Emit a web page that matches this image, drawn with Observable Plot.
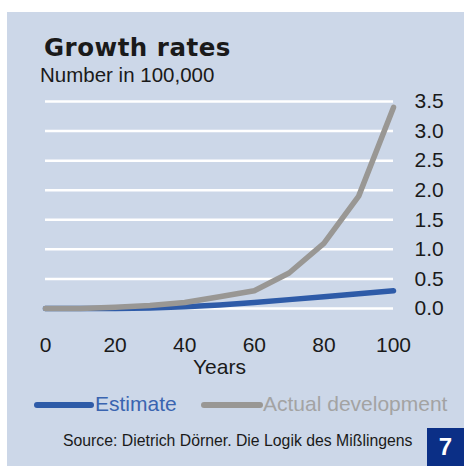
<!DOCTYPE html>
<html><head><meta charset="utf-8">
<script src="https://cdn.jsdelivr.net/npm/d3@7"></script>
<script src="https://cdn.jsdelivr.net/npm/@observablehq/plot@0.6"></script>
<style>
body{margin:0;background:#fff;font-family:"Liberation Sans",Arial,sans-serif;}
#wrap{position:relative;width:464px;height:466px;overflow:hidden;}
#panel{position:absolute;left:7px;top:12px;width:457px;height:454px;background:#ccd7e8;}
#title{position:absolute;left:44px;top:33px;font-family:"DejaVu Sans",sans-serif;font-size:24.5px;font-weight:bold;color:#1a1a1a;letter-spacing:0.5px;}
#sub{position:absolute;left:40px;top:63px;font-size:20.5px;color:#1a1a1a;}
#chart{position:absolute;left:0;top:80px;}
.leg{position:absolute;top:392px;font-size:21px;white-space:nowrap;}
#src{position:absolute;left:63px;top:432px;font-size:15.8px;color:#1a1a1a;white-space:nowrap;}
#num{position:absolute;left:427px;top:428px;width:37px;height:38px;background:#0b2f86;color:#fff;font-weight:bold;font-size:24px;text-align:center;line-height:38px;}
</style></head>
<body><div id="wrap">
<div id="panel"></div>
<div id="title">Growth rates</div>
<div id="sub">Number in 100,000</div>
<div id="chart"></div>
<div class="leg" style="left:33px;color:#3a64b0"><svg width="62" height="12" style="vertical-align:middle"><line x1="4" y1="6" x2="58" y2="6" stroke="#2e5ba8" stroke-width="6" stroke-linecap="round"/></svg>Estimate</div>
<div class="leg" style="left:200px;color:#a3a3a3"><svg width="63" height="12" style="vertical-align:middle"><line x1="4" y1="6" x2="60" y2="6" stroke="#999794" stroke-width="6" stroke-linecap="round"/></svg>Actual development</div>
<div id="src">Source: Dietrich Dörner. Die Logik des Mißlingens</div>
<div id="num">7</div>
</div>
<script>
const years = [0,10,20,30,40,50,60,70,80,90,100];
const estimate = [0,0,0,0.01,0.03,0.06,0.1,0.15,0.2,0.25,0.3];
const actual = [0,0,0.02,0.05,0.1,0.2,0.3,0.6,1.1,1.9,3.4];
const yTicks = [0,0.5,1,1.5,2,2.5,3,3.5];
const xTicks = [0,20,40,60,80,100];

const est = years.map((y,i)=>({year:y,value:estimate[i]}));
const act = years.map((y,i)=>({year:y,value:actual[i]}));

const plot = Plot.plot({
  width:464, height:300,
  marginLeft:45, marginRight:71, marginTop:21, marginBottom:72,
  style:{background:"transparent",fontFamily:"Liberation Sans, Arial, sans-serif",color:"#1a1a1a",overflow:"visible"},
  x:{domain:[0,100]},
  y:{domain:[0,3.5]},
  marks:[
    Plot.ruleY(yTicks,{stroke:"#fff",strokeWidth:2.5,strokeOpacity:1}),
    Plot.axisY(yTicks,{anchor:"right",tickSize:0,tickPadding:21,tickFormat:d=>d.toFixed(1),fontSize:21,label:null,textAnchor:"start"}),
    Plot.axisX(xTicks,{anchor:"bottom",tickSize:0,tickPadding:29,fontSize:21,label:null}),
    Plot.text(["Years"],{frameAnchor:"bottom",dy:65,fontSize:21,fill:"#1a1a1a"}),
    Plot.line(est,{x:"year",y:"value",stroke:"#2e5ba8",strokeWidth:5.5,strokeLinecap:"round",strokeLinejoin:"round"}),
    Plot.line(act,{x:"year",y:"value",stroke:"#999794",strokeWidth:5.5,strokeLinecap:"round",strokeLinejoin:"round"})
  ]
});
document.getElementById("chart").appendChild(plot);
</script>
</body></html>
